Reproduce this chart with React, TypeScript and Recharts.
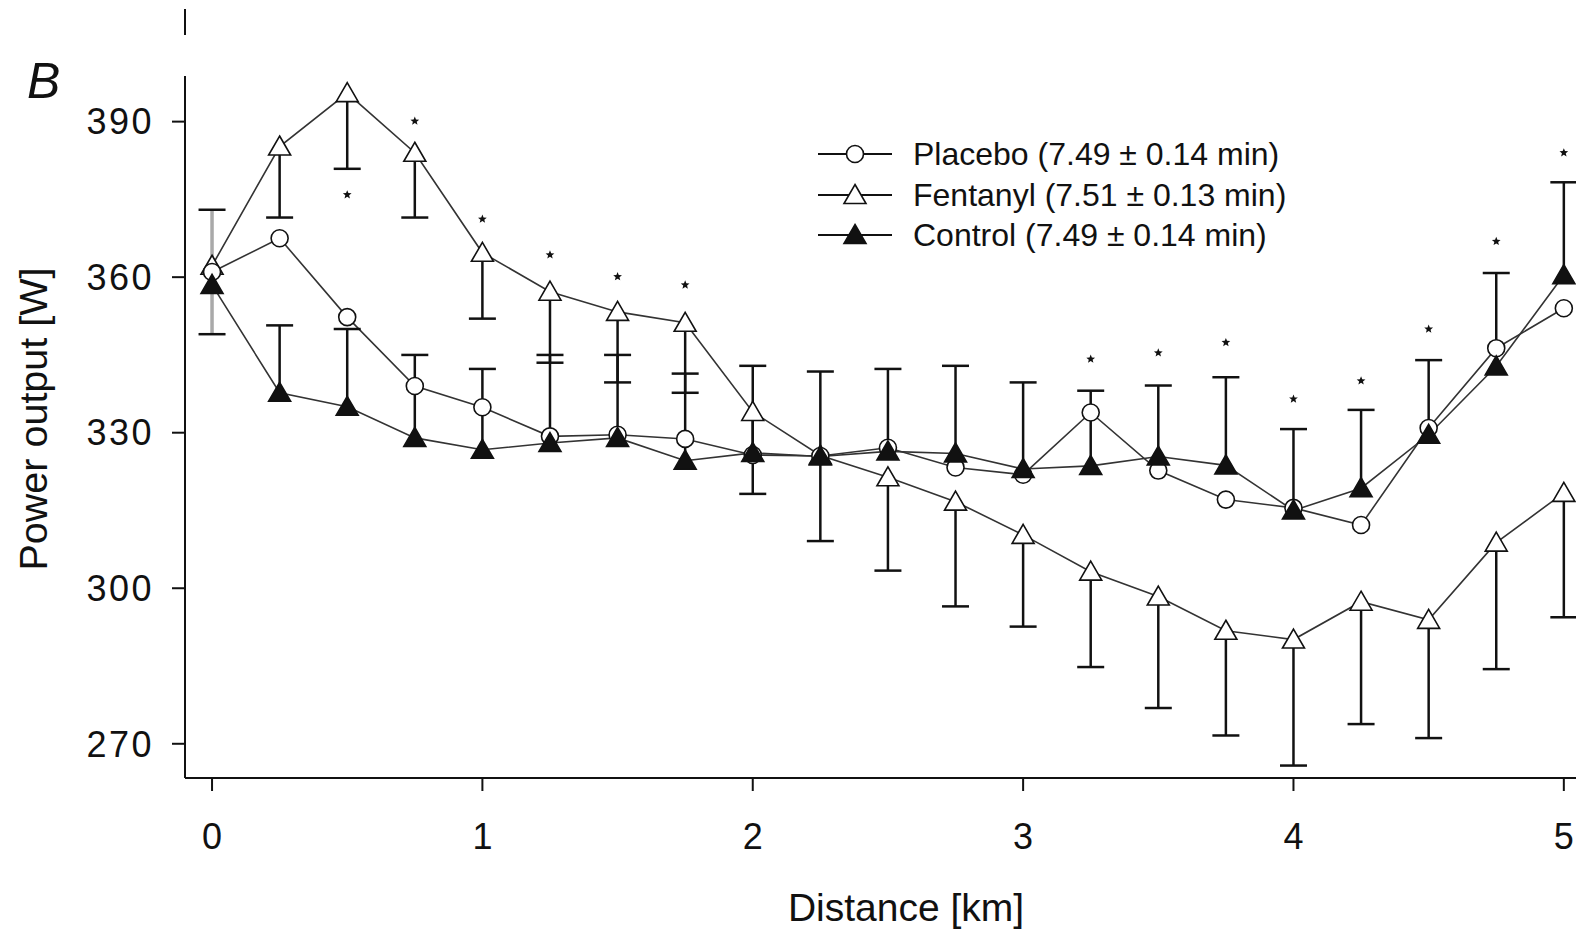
import React from "react";
import { ComposedChart, Line, Scatter, XAxis, YAxis, ErrorBar, Legend } from "recharts";

const FONT = '"Liberation Sans", Arial, Helvetica, sans-serif';
const INK = "#111";
const LINE = "#333";
const GREY_BAR = "#a9a9a9";

// distance in km, power output in W
const distance = [0, 0.25, 0.5, 0.75, 1, 1.25, 1.5, 1.75, 2, 2.25, 2.5, 2.75, 3, 3.25, 3.5, 3.75, 4, 4.25, 4.5, 4.75, 5];
const placebo = [361, 367.5, 352.3, 339, 334.9, 329.3, 329.6, 328.8, 325.7, 325.5, 327.1, 323.3, 321.9, 333.9, 322.7, 317.1, 315.5, 312.2, 330.9, 346.3, 354];
const fentanyl = [362.2, 385.2, 395.5, 384, 364.7, 357.2, 353.3, 351.2, 334, 325.6, 321.4, 316.7, 310.3, 303.2, 298.4, 291.8, 290.1, 297.4, 293.9, 308.8, 318.4];
const control = [358.5, 337.7, 335, 329, 326.7, 328, 329, 324.6, 326.1, 325.4, 326.4, 326, 323, 323.6, 325.4, 323.7, 315, 319.3, 329.6, 342.8, 360.4];

// SD: placebo only at start (both ways), fentanyl drawn downward, control upward
const placeboSd = [12, null, null, null, null, null, null, null, null, null, null, null, null, null, null, null, null, null, null, null, null];
const fentanylSdDown = [null, 13.7, 14.6, 12.5, 12.7, 13.7, 13.6, 13.5, 15.8, 16.5, 18, 20.2, 17.7, 18.4, 21.5, 20.2, 24.3, 23.6, 22.8, 24.4, 24];
const controlSdUp = [null, 13, 15, 16, 15.6, 17, 16, 16.8, 16.8, 16.4, 15.9, 16.9, 16.7, 14.5, 13.7, 17, 15.7, 15.1, 14.4, 18, 17.9];

// significance markers
const starX = [0.5, 0.75, 1, 1.25, 1.5, 1.75, 3.25, 3.5, 3.75, 4, 4.25, 4.5, 4.75, 5];
const starY = [375.9, 390.1, 371.2, 364.3, 360.1, 358.5, 344.2, 345.4, 347.4, 336.5, 340, 350, 366.9, 384];

const xTicks = [0, 1, 2, 3, 4, 5];
const yTicks = [270, 300, 330, 360, 390];

const legendItems = [
  { key: "placebo", label: "Placebo (7.49 \u00b1 0.14 min)" },
  { key: "fentanyl", label: "Fentanyl (7.51 \u00b1 0.13 min)" },
  { key: "control", label: "Control (7.49 \u00b1 0.14 min)" },
];

const rows = distance.map((x, i) => ({
  x,
  placebo: placebo[i],
  fentanyl: fentanyl[i],
  control: control[i],
  placeboErr: placeboSd[i] == null ? undefined : [placeboSd[i], placeboSd[i]],
  fentanylErr: fentanylSdDown[i] == null ? undefined : [fentanylSdDown[i], 0],
  controlErr: controlSdUp[i] == null ? undefined : [0, controlSdUp[i]],
}));

const caps = distance.flatMap((x, i) => {
  const out: { x: number; y: number }[] = [];
  const ps = placeboSd[i];
  const fs = fentanylSdDown[i];
  const cs = controlSdUp[i];
  if (ps != null) out.push({ x, y: placebo[i] + ps }, { x, y: placebo[i] - ps });
  if (fs != null) out.push({ x, y: fentanyl[i] - fs });
  if (cs != null) out.push({ x, y: control[i] + cs });
  return out;
});

const stars = starX.map((x, i) => ({ x, y: starY[i] }));

function triPath(cx: number, cy: number) {
  return `M${cx},${cy - 10.5} L${cx + 11},${cy + 8.5} L${cx - 11},${cy + 8.5} Z`;
}

function starPath(cx: number, cy: number) {
  const pts: string[] = [];
  for (let k = 0; k < 10; k++) {
    const r = k % 2 === 0 ? 4.6 : 2;
    const a = -Math.PI / 2 + (k * Math.PI) / 5;
    pts.push(`${cx + r * Math.cos(a)},${cy + r * Math.sin(a)}`);
  }
  return `M${pts.join(" L")} Z`;
}

function Marker({ kind, cx, cy }: { kind: string; cx: number; cy: number }) {
  if (cx == null || cy == null) return null;
  if (kind === "placebo") {
    return <circle cx={cx} cy={cy} r={8.5} fill="#fff" stroke={INK} strokeWidth={1.6} />;
  }
  return (
    <path
      d={triPath(cx, cy)}
      fill={kind === "control" ? INK : "#fff"}
      stroke={INK}
      strokeWidth={1.6}
    />
  );
}

function LegendBox() {
  return (
    <div style={{ fontFamily: FONT, fontSize: 32, color: INK }}>
      {legendItems.map((item) => (
        <div key={item.key} style={{ display: "flex", alignItems: "center", height: 40.5 }}>
          <svg width={74} height={40} style={{ display: "block", flex: "none" }}>
            <line x1={0} x2={74} y1={20} y2={20} stroke={INK} strokeWidth={1.8} />
            <Marker kind={item.key} cx={37} cy={20} />
          </svg>
          <span style={{ marginLeft: 21, whiteSpace: "nowrap", lineHeight: "40px" }}>{item.label}</span>
        </div>
      ))}
    </div>
  );
}

const XTitle = () => (
  <text x={906} y={921} textAnchor="middle" fill={INK} fontSize={39} fontFamily={FONT}>
    Distance [km]
  </text>
);

const YTitle = () => (
  <text
    x={47}
    y={419}
    transform="rotate(-90, 47, 419)"
    textAnchor="middle"
    fill={INK}
    fontSize={39.5}
    fontFamily={FONT}
  >
    Power output [W]
  </text>
);

export default function App() {
  const axisStyle = { stroke: INK, strokeWidth: 2 };
  const yTickStyle = { fill: INK, fontSize: 36, fontFamily: FONT, letterSpacing: 2.5 };
  const xTickStyle = { fill: INK, fontSize: 36, fontFamily: FONT };
  return (
    <div style={{ position: "absolute", left: 0, top: 0, width: 1576, height: 930, background: "#fff" }}>
      <ComposedChart
        width={1576}
        height={930}
        data={rows}
        margin={{ top: 76, right: 0, bottom: 52, left: 65 }}
      >
        <XAxis
          dataKey="x"
          type="number"
          domain={[-0.1, 5.045]}
          allowDataOverflow
          ticks={xTicks}
          interval={0}
          height={100}
          tickSize={13}
          tickMargin={32}
          axisLine={axisStyle}
          tickLine={axisStyle}
          tick={xTickStyle}
          label={XTitle}
        />
        <YAxis
          type="number"
          domain={[263.4, 398.8]}
          allowDataOverflow
          ticks={yTicks}
          interval={0}
          width={120}
          tickSize={13}
          tickMargin={18}
          axisLine={axisStyle}
          tickLine={axisStyle}
          tick={yTickStyle}
          label={YTitle}
        />
        <Legend
          layout="vertical"
          align="center"
          verticalAlign="middle"
          wrapperStyle={{ left: 818, top: 134, width: 720, height: 122 }}
          content={() => <LegendBox />}
        />
        <Line
          dataKey="fentanyl"
          type="linear"
          stroke={LINE}
          strokeWidth={1.6}
          isAnimationActive={false}
          dot={(p: any) => <Marker key={`f${p.index}`} kind="fentanyl" cx={p.cx} cy={p.cy} />}
        >
          <ErrorBar dataKey="fentanylErr" width={0} stroke={INK} strokeWidth={2.5} direction="y" />
        </Line>
        <Line
          dataKey="placebo"
          type="linear"
          stroke={LINE}
          strokeWidth={1.6}
          isAnimationActive={false}
          dot={(p: any) => <Marker key={`p${p.index}`} kind="placebo" cx={p.cx} cy={p.cy} />}
        >
          <ErrorBar dataKey="placeboErr" width={0} stroke={GREY_BAR} strokeWidth={3.5} direction="y" />
        </Line>
        <Line
          dataKey="control"
          type="linear"
          stroke={LINE}
          strokeWidth={1.6}
          isAnimationActive={false}
          dot={(p: any) => <Marker key={`c${p.index}`} kind="control" cx={p.cx} cy={p.cy} />}
        >
          <ErrorBar dataKey="controlErr" width={0} stroke={INK} strokeWidth={2.5} direction="y" />
        </Line>
        <Scatter
          data={caps}
          dataKey="y"
          isAnimationActive={false}
          legendType="none"
          shape={(p: any) => (
            <line x1={p.cx - 13.5} x2={p.cx + 13.5} y1={p.cy} y2={p.cy} stroke={INK} strokeWidth={2.5} />
          )}
        />
        <Scatter
          data={stars}
          dataKey="y"
          isAnimationActive={false}
          legendType="none"
          shape={(p: any) => <path d={starPath(p.cx, p.cy)} fill={INK} />}
        />
      </ComposedChart>
      <svg
        width={1576}
        height={930}
        style={{ position: "absolute", left: 0, top: 0, pointerEvents: "none" }}
      >
        <line x1={185} x2={185} y1={9} y2={35} stroke={INK} strokeWidth={2} />
        <text x={27} y={98} fontSize={50} fontStyle="italic" fontFamily={FONT} fill={INK}>
          B
        </text>
      </svg>
    </div>
  );
}
